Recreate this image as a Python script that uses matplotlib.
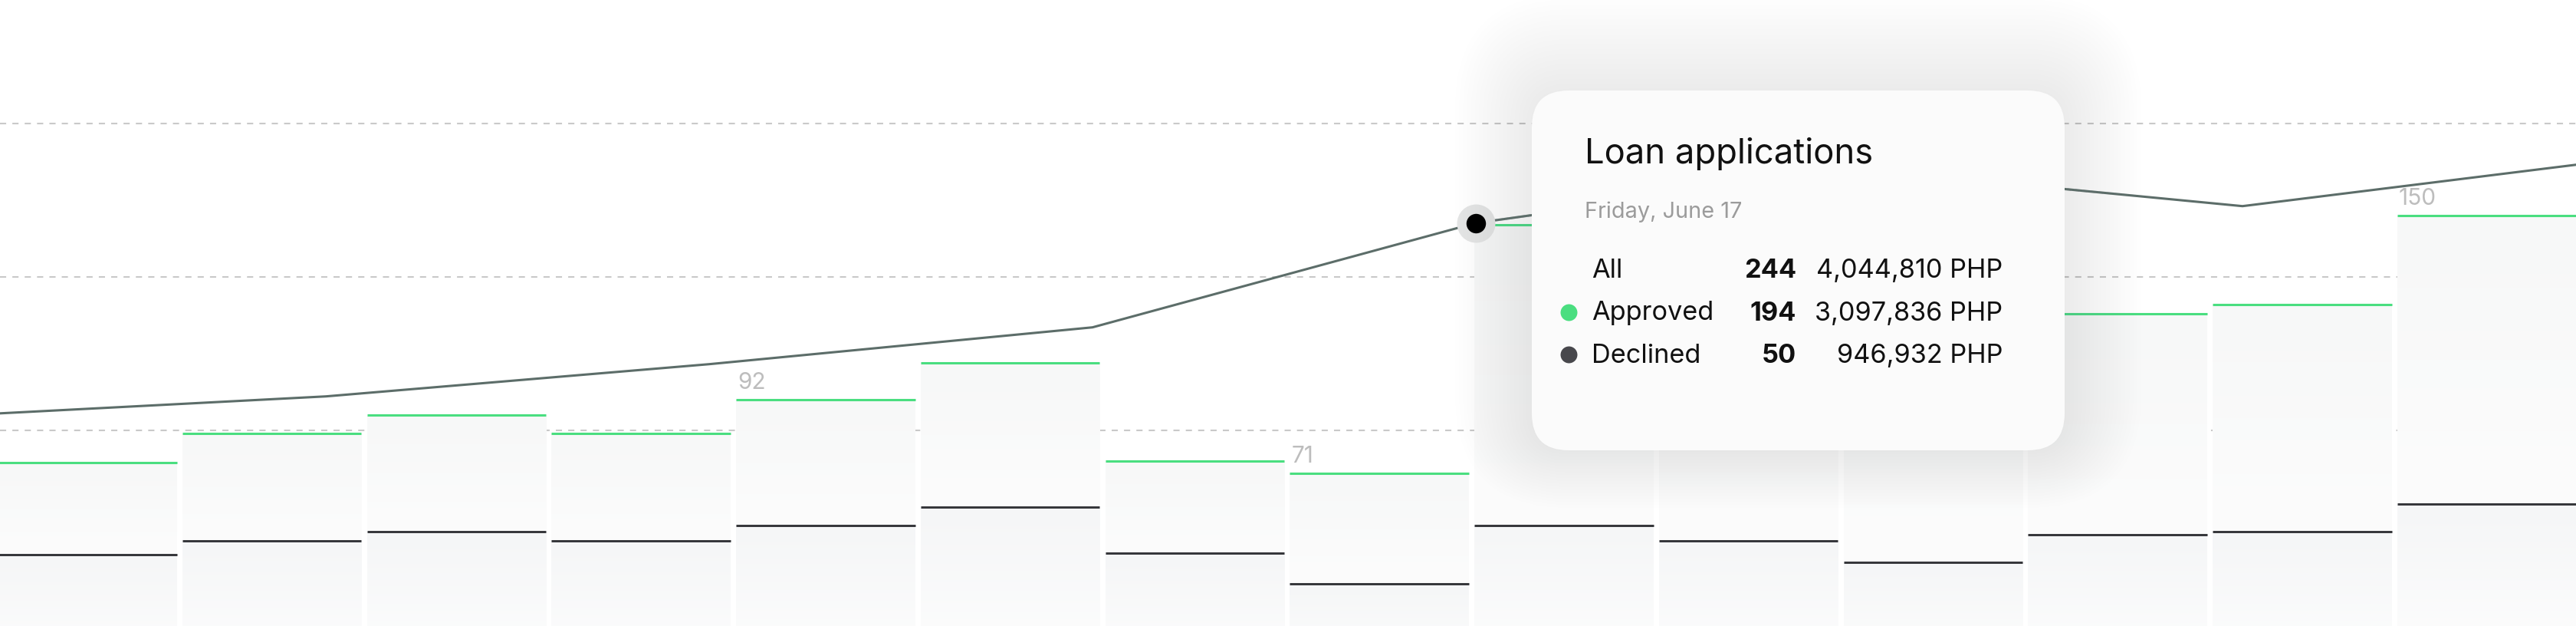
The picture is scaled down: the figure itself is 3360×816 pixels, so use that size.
import matplotlib
matplotlib.use("Agg")
import matplotlib.pyplot as plt
from matplotlib.colors import LinearSegmentedColormap
from matplotlib.patches import FancyBboxPatch
import numpy as np

plt.rcParams["font.family"] = ["Inter", "DejaVu Sans"]
plt.rcParams["lines.scale_dashes"] = False

# ---- data ----
days = np.arange(14)
approved = [69.5, 79, 85, 79, 90, 102, 70, 66, 147, 132, 112, 118, 121, 150]
declined = [39.5, 44, 47, 44, 49, 55, 40, 30, 49, 44, 37, 46, 47, 56]
bar_labels = {4: "92", 7: "71", 13: "150"}
grid_values = [80, 130, 180]

weeks = np.arange(8)
all_apps = [118, 131, 152, 176, 244, 279, 255, 286]
hover_week = 4

tip_title = "Loan applications"
tip_date = "Friday, June 17"
tip_rows = ["All", "Approved", "Declined"]
tip_counts = [244, 194, 50]
tip_amounts = [4044810, 3097836, 946932]
tip_currency = "PHP"

# ---- style ----
GREEN = "#4ade80"
DARK = "#333438"
DECL_DOT = "#48484c"
LINE = "#5c6d69"
GRID = "#c9c9c9"
LABEL = "#bdbdbd"
INK = "#111111"
MUTE = "#9b9b9b"

upper_cmap = LinearSegmentedColormap.from_list("up", ["#fcfcfc", "#f7f8f8"])
lower_cmap = LinearSegmentedColormap.from_list("low", ["#fefefe", "#f5f6f7"])
grad = np.linspace(0, 1, 128)[:, None]

fig = plt.figure(figsize=(33.6, 8.16), dpi=100)
fig.patch.set_facecolor("white")

# ---------------- bars ----------------
ax = fig.add_axes([0, 0, 1, 1])
W = 0.97
for i in days:
    left = i - W / 2
    ax.imshow(grad, cmap=lower_cmap, origin="lower", aspect="auto",
              extent=[left, left + W, 0, declined[i]], zorder=1,
              interpolation="bilinear")
    ax.imshow(grad, cmap=upper_cmap, origin="lower", aspect="auto",
              extent=[left, left + W, declined[i], approved[i]], zorder=1,
              interpolation="bilinear")

ax.hlines(approved, days - W / 2, days + W / 2, color=GREEN, lw=2.2, zorder=3)
ax.hlines(declined, days - W / 2, days + W / 2, color=DARK, lw=2.1, zorder=3)

for i, txt in bar_labels.items():
    ax.annotate(txt, (i - W / 2, approved[i]), xytext=(1.5, 10),
                textcoords="offset points", ha="left", va="baseline",
                fontsize=21.5, color=LABEL, zorder=4)

ax.set_xlim(-0.4725, 13.4835)
ax.set_ylim(16.25, 220.25)
ax.set_yticks(grid_values)
ax.set_xticks([])
ax.grid(axis="y", color=GRID, lw=1.5, linestyle=(0, (5.8, 5.8)))
ax.set_axisbelow(True)
ax.tick_params(left=False, bottom=False, labelleft=False, labelbottom=False)
for s in ax.spines.values():
    s.set_visible(False)
ax.set_facecolor("white")

# ---------------- line ----------------
axl = fig.add_axes([0, 0, 1, 1])
axl.axis("off")
axl.plot(weeks, all_apps, color=LINE, lw=2.2, zorder=4, solid_joinstyle="round")
axl.plot(weeks[hover_week], all_apps[hover_week], "o", ms=36,
         color="#e4e5e5", mec="none", zorder=5)
axl.plot(weeks[hover_week], all_apps[hover_week], "o", ms=18.3,
         color="black", mec="none", zorder=6)
axl.set_xlim(0.15, 6.87)
axl.set_ylim(-18.65, 389.35)

# ---------------- tooltip (pixel overlay) ----------------
ov = fig.add_axes([0, 0, 1, 1])
ov.axis("off")
ov.set_xlim(0, 3360)
ov.set_ylim(816, 0)

bx, by, bw, bh, rad = 1998, 118, 695, 469, 48
for d in np.linspace(100, 2, 20):
    ov.add_patch(FancyBboxPatch((bx - d, by - d - 0.25 * d), bw + 2 * d, bh + 2 * d,
                                boxstyle=f"round,pad=0,rounding_size={rad + d}",
                                fc="#7a8286", ec="none", alpha=0.0026, zorder=8))
ov.add_patch(FancyBboxPatch((bx, by), bw, bh,
                            boxstyle=f"round,pad=0,rounding_size={rad}",
                            fc="#fbfbfb", ec="none", zorder=10))

ov.text(2067, 213, tip_title, fontsize=32.7, color=INK, va="baseline", zorder=11)
ov.text(2067, 284, tip_date, fontsize=20.8, color=MUTE, va="baseline", zorder=11)

dot_colors = [None, GREEN, DECL_DOT]
for k, (name, cnt, amt) in enumerate(zip(tip_rows, tip_counts, tip_amounts)):
    yb = 362 + 55.5 * k
    ov.text(2076, yb, name, fontsize=24.7, color=INK, va="baseline", zorder=11)
    ov.text(2343, yb, str(cnt), fontsize=24.7, color=INK, fontweight="bold",
            ha="right", va="baseline", zorder=11)
    ov.text(2612, yb, f"{amt:,} {tip_currency}", fontsize=24.7, color=INK,
            ha="right", va="baseline", zorder=11)
    if dot_colors[k]:
        ov.plot(2046, yb - 11, "o", ms=15.8, color=dot_colors[k], mec="none", zorder=11)

fig.savefig("out.png", dpi=100, facecolor="white")
